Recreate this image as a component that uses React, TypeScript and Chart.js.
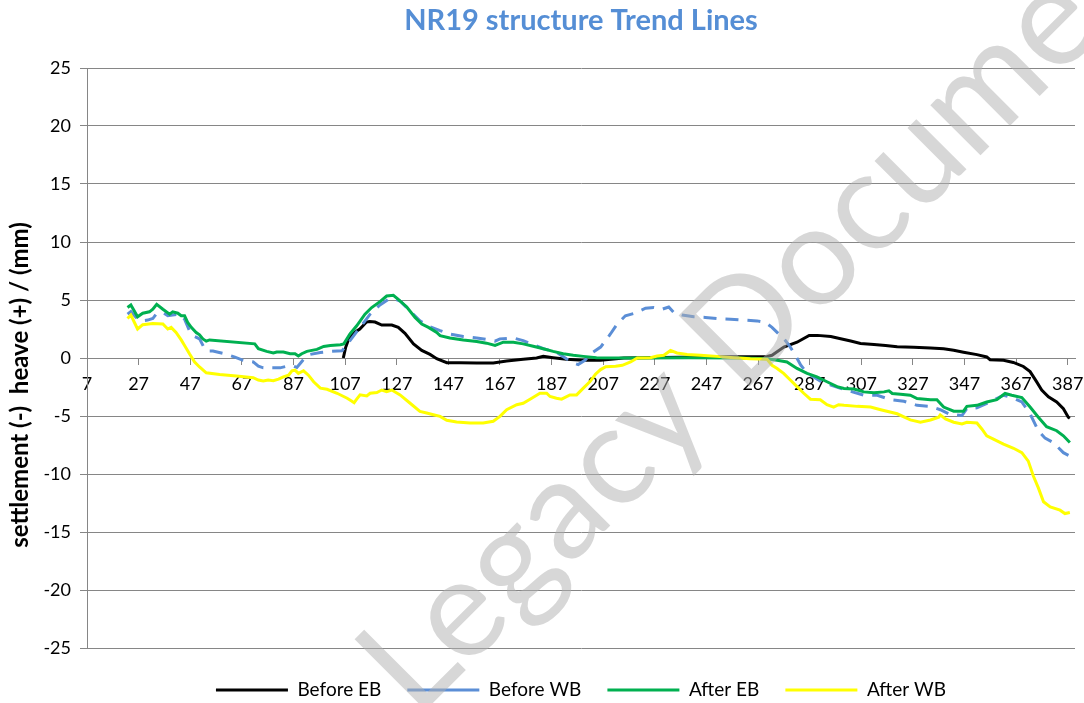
import React, { useEffect, useRef } from 'react';
import { Chart, registerables } from 'chart.js';

Chart.register(...registerables);

const TITLE = 'NR19 structure Trend Lines';
const Y_TITLE = 'settlement (-)  heave (+) / (mm)';
const WATERMARK = 'Legacy Document';
const SERIES_NAMES = ['Before EB', 'Before WB', 'After EB', 'After WB'];
const X_TICKS = [7, 27, 47, 67, 87, 107, 127, 147, 167, 187, 207, 227, 247, 267, 287, 307, 327, 347, 367, 387];
const Y_MIN = -25;
const Y_MAX = 25;
const Y_STEP = 5;

// [chainage, value]
const beforeEB: [number, number][] = [
  [106.3, 0], [107.2, 0.9], [108.5, 1.7], [110, 2.1], [112.7, 2.5], [115.3, 3.1], [116.5, 3.15], [118.6, 3.1],
  [121.2, 2.84], [125.1, 2.84], [127.6, 2.64], [130.2, 2.13], [133.5, 1.22], [136.7, 0.65], [139.9, 0.31],
  [142.5, -0.06], [146.4, -0.4], [151.5, -0.4], [158, -0.43], [164.4, -0.43], [169.6, -0.26], [176, -0.11],
  [181.2, 0], [183.8, 0.14], [187.6, 0.03], [192.8, -0.11], [199.3, -0.2], [206, -0.2], [215, 0], [230, 0.05],
  [250, 0.1], [270.5, 0.14], [272.4, 0.23], [277, 0.94], [282.1, 1.36], [286.8, 1.95], [290, 1.95], [295.2, 1.85],
  [299, 1.66], [302.9, 1.46], [306.7, 1.25], [311.9, 1.17], [316.4, 1.08], [320.9, 0.96], [327.3, 0.93],
  [333.8, 0.87], [338.9, 0.79], [342.8, 0.67], [346.6, 0.5], [351.8, 0.29], [355.6, 0.09], [356.9, -0.15],
  [362.1, -0.2], [365.9, -0.38], [369.8, -0.73], [372.4, -1.17], [374.9, -2.04], [376.9, -2.77], [379.5, -3.35],
  [382.7, -3.79], [385.3, -4.37], [387.2, -5.1], [387.8, -5.19],
];

const beforeWB: [number, number][] = [
  [22.7, 3.78], [24, 4.0], [26, 3.5], [27.9, 3.2], [30.5, 3.27], [32.5, 3.4], [33.8, 3.78], [36.4, 3.92],
  [38.3, 3.64], [40.2, 3.7], [42.8, 3.78], [44.8, 3.35], [46.7, 2.36], [48.7, 1.85], [50.6, 1.65], [52.6, 0.8],
  [53.9, 0.6], [55.8, 0.6], [60.4, 0.37], [64.3, 0.08], [67.5, -0.2], [71.4, -0.34], [73.4, -0.71], [75.3, -0.85],
  [79.2, -0.85], [81.8, -0.85], [84.4, -0.71], [87, -0.71], [88.3, -0.82], [89.6, -0.48], [91.5, 0.03],
  [93.5, 0.31], [97.4, 0.48], [101.3, 0.57], [105.8, 0.62], [108.9, 1.5], [112.8, 2.64], [116.7, 3.78],
  [120.5, 4.57], [123.8, 5.06], [125.7, 5.14], [128.3, 4.91], [132.2, 4.06], [136, 3.2], [139.9, 2.7],
  [143.8, 2.36], [147.6, 2.07], [152.8, 1.85], [158, 1.73], [163.1, 1.56], [165.1, 1.45], [167, 1.65],
  [172.2, 1.73], [176, 1.5], [179.9, 1.16], [183.8, 0.8], [188.9, 0.51], [192.7, -0.06], [195.4, -0.43],
  [197.3, -0.57], [199.9, -0.2], [203.1, 0.51], [206, 0.94], [209.8, 2.07], [212.4, 2.93], [215.6, 3.64],
  [218.9, 3.84], [223.4, 4.29], [226.6, 4.35], [229.8, 4.2], [232.4, 4.4], [234.4, 3.92], [237.6, 3.7],
  [242.1, 3.55], [246.6, 3.5], [251.1, 3.4], [256.3, 3.35], [261.5, 3.27], [266.6, 3.2], [269.8, 3.07],
  [272.4, 2.64], [275, 2.07], [277.6, 1.5], [279.5, 0.94], [281.5, 0.23], [283.5, -0.6], [286, -1.3],
  [289, -1.7], [292, -2.1], [295.2, -2.33], [300.3, -2.71], [308, -3.21], [313.2, -3.21], [318.3, -3.59],
  [323.5, -3.73], [328.6, -4.08], [333.8, -4.17], [337.6, -4.46], [341.5, -4.87], [346, -4.96], [347.9, -4.37],
  [351.8, -4.29], [356.9, -3.79], [362.1, -3.21], [365.3, -3.41], [369.2, -3.79], [372.4, -4.81], [375.6, -6.27],
  [378.2, -6.91], [381.4, -7.29], [385.3, -8.16], [387.8, -8.45],
];

const afterEB: [number, number][] = [
  [22.7, 4.35], [24, 4.57], [26.6, 3.55], [28.6, 3.86], [31.2, 3.98], [32.5, 4.2], [34, 4.63], [36.4, 4.2],
  [39, 3.78], [40.2, 3.98], [42.2, 3.86], [43.5, 3.64], [44.8, 3.64], [46, 3.07], [47.4, 2.64], [49.3, 2.2],
  [50.6, 2.0], [51.9, 1.65], [53.2, 1.45], [54.5, 1.56], [72, 1.22], [73.4, 0.8], [76.6, 0.57], [79.2, 0.43],
  [80.5, 0.51], [83.1, 0.51], [85.7, 0.37], [87.6, 0.37], [88.9, 0.17], [90.2, 0.37], [92.2, 0.57], [96.1, 0.74],
  [98.7, 1.0], [101.3, 1.08], [105.2, 1.14], [106.5, 1.22], [108.9, 2.07], [111.5, 2.78], [114.7, 3.78],
  [117.3, 4.35], [120.5, 4.86], [123.1, 5.34], [125.7, 5.4], [127.6, 5.06], [130.9, 4.4], [134.1, 3.5],
  [136.7, 2.93], [139.3, 2.64], [142.5, 2.2], [143.8, 1.93], [147.6, 1.73], [152.8, 1.56], [158, 1.42],
  [161.8, 1.28], [165.1, 1.08], [168.3, 1.36], [172.2, 1.36], [176, 1.22], [179.9, 1.02], [183.8, 0.8],
  [187.6, 0.57], [191.5, 0.37], [195.4, 0.23], [199.3, 0.14], [204.4, 0.03], [220, 0], [240, 0.02], [260, 0],
  [270.5, -0.06], [274.4, -0.2], [278.2, -0.34], [282.1, -0.9], [286, -1.33], [289.8, -1.62], [293.7, -2.05],
  [297.6, -2.47], [300.3, -2.62], [304.2, -2.68], [308, -2.92], [311.9, -3.0], [315.8, -2.92], [317.7, -2.83],
  [319, -3.06], [322.2, -3.12], [326, -3.21], [328.6, -3.5], [333.8, -3.59], [336.3, -3.59], [338.9, -4.23],
  [342.8, -4.58], [346.6, -4.58], [347.9, -4.17], [351.8, -4.08], [355.6, -3.79], [359.5, -3.59], [362.7, -3.06],
  [365.3, -3.21], [369.2, -3.41], [372.4, -4.23], [375.6, -5.1], [378.8, -5.92], [382.7, -6.27], [385.3, -6.71],
  [387.8, -7.29],
];

const afterWB: [number, number][] = [
  [22.7, 3.4], [24, 3.7], [26.6, 2.5], [28.6, 2.87], [32.5, 2.98], [36.4, 2.93], [38.3, 2.5], [39.6, 2.64],
  [41.5, 2.2], [43.5, 1.56], [44.8, 1.08], [46.7, 0.37], [48.7, -0.34], [50.6, -0.77], [53.2, -1.28],
  [58.4, -1.42], [64.9, -1.56], [71.4, -1.7], [73.4, -1.9], [75.3, -1.99], [77.2, -1.9], [79.2, -1.96],
  [81.2, -1.82], [83.1, -1.62], [85.1, -1.48], [86.4, -1.1], [87.6, -1.05], [88.9, -1.33], [90.9, -1.1],
  [92.8, -1.48], [94.8, -2.05], [97.4, -2.6], [100, -2.7], [103.9, -3.04], [107.8, -3.47], [109.5, -3.7],
  [110.5, -3.85], [111.5, -3.55], [112.8, -3.18], [115.4, -3.27], [116.7, -3.04], [119.3, -2.98], [121.2, -2.76],
  [123.1, -2.9], [125.1, -2.76], [128.3, -3.18], [132.2, -3.9], [136, -4.6], [138.6, -4.74], [141.2, -4.89],
  [143.8, -5.03], [146.4, -5.37], [150.2, -5.51], [155.4, -5.6], [160.5, -5.6], [164.4, -5.45], [167, -5.03],
  [169.6, -4.46], [173.5, -4.03], [176, -3.9], [179.3, -3.47], [182.5, -3.04], [185.1, -3.04], [186.4, -3.32],
  [188.9, -3.47], [190.9, -3.55], [194.1, -3.18], [196.7, -3.18], [199.3, -2.6], [201.8, -2.05], [204, -1.4],
  [206, -1.0], [208, -0.75], [211.8, -0.71], [214.4, -0.63], [217.6, -0.34], [220.2, 0], [225.3, 0.03],
  [227.9, 0.17], [230.5, 0.23], [233.1, 0.65], [235.6, 0.43], [239.5, 0.31], [244.7, 0.23], [251.1, 0.14],
  [257.6, 0.03], [264, -0.06], [270.5, -0.11], [272.4, -0.63], [274.4, -0.9], [276.9, -1.33], [279.5, -1.9],
  [282.1, -2.47], [284.7, -3.04], [287.3, -3.55], [291.1, -3.6], [293.7, -4.03], [296.3, -4.23], [298.2, -4.03],
  [300.3, -4.08], [305.5, -4.17], [310.6, -4.23], [314.5, -4.46], [320.9, -4.81], [326, -5.34], [329.9, -5.54],
  [333.8, -5.34], [337, -5.1], [337.6, -4.9], [339.6, -5.25], [342.8, -5.54], [346, -5.69], [347.9, -5.54],
  [351.8, -5.6], [353.7, -6.12], [355.6, -6.71], [358.2, -7.0], [362.1, -7.43], [366, -7.78], [369.2, -8.16],
  [371.7, -8.89], [373.7, -10.2], [375.6, -11.2], [377.6, -12.39], [380.2, -12.83], [384, -13.12],
  [385.9, -13.41], [387.8, -13.32],
];

const SERIES_DATA = [beforeEB, beforeWB, afterEB, afterWB];
const SERIES_COLORS = ['#000000', '#5B8ED6', '#00B050', '#FFFF00'];
const SERIES_DASH: number[][] = [[], [13, 9], [], []];
const SERIES_ORDER = [3, 2, 1, 0];

const FONT = 'Lato, "Open Sans", sans-serif';

export default function App() {
  const ref = useRef<HTMLCanvasElement>(null);

  useEffect(() => {
    if (!ref.current) return;
    const overlay = {
      id: 'overlay',
      afterDraw(chart: any) {
        const ctx = chart.ctx;
        // vertical axis title
        ctx.save();
        ctx.translate(20, 385);
        ctx.rotate(-Math.PI / 2);
        ctx.font = `bold 24px ${FONT}`;
        ctx.fillStyle = '#000';
        ctx.textAlign = 'center';
        ctx.textBaseline = 'middle';
        ctx.fillText(Y_TITLE, 0, 0);
        ctx.restore();
        // watermark
        ctx.save();
        ctx.translate(775, 297);
        ctx.rotate(-Math.PI / 4);
        ctx.font = `140px ${FONT}`;
        ctx.fillStyle = 'rgba(175,175,175,0.5)';
        ctx.textAlign = 'center';
        ctx.textBaseline = 'middle';
        ctx.fillText(WATERMARK, 0, 0);
        ctx.restore();
      },
    };

    const chart = new Chart(ref.current, {
      type: 'line',
      data: {
        datasets: SERIES_DATA.map((arr, i) => ({
          label: SERIES_NAMES[i],
          data: arr.map(([x, y]) => ({ x, y })),
          borderColor: SERIES_COLORS[i],
          backgroundColor: SERIES_COLORS[i],
          borderWidth: 3,
          borderDash: SERIES_DASH[i],
          pointRadius: 0,
          pointHoverRadius: 0,
          pointStyle: 'line',
          tension: 0,
          fill: false,
          order: SERIES_ORDER[i],
        })),
      },
      options: {
        responsive: false,
        animation: false,
        events: [],
        layout: { padding: { left: 0, right: 9, top: 0, bottom: -6.5 } },
        plugins: {
          title: {
            display: true,
            text: TITLE,
            fullSize: false,
            color: '#558ED5',
            font: { family: FONT, size: 29, weight: 'bold' },
            padding: { top: 3.6, bottom: 29.6 },
          },
          legend: {
            position: 'bottom',
            fullSize: false,
            title: { display: true, text: '', padding: { top: 5.3, bottom: 0 }, font: { size: 1 } },
            labels: {
              usePointStyle: true,
              pointStyleWidth: 72,
              padding: 26,
              color: '#000',
              font: { family: FONT, size: 19 },
              sort: (a: any, b: any) => a.datasetIndex - b.datasetIndex,
            },
          },
          tooltip: { enabled: false },
        },
        scales: {
          x: {
            type: 'linear',
            position: { y: 0 } as any,
            min: 7,
            max: 389.8,
            afterBuildTicks: (s: any) => {
              s.ticks = X_TICKS.map((v) => ({ value: v }));
            },
            afterFit: (s: any) => {
              s.paddingLeft = 0;
              s.paddingRight = 0;
            },
            grid: { display: true, drawOnChartArea: false, drawTicks: true, tickLength: 6, color: '#868686' },
            border: { display: true, color: '#868686', width: 1 },
            ticks: { color: '#000', font: { family: FONT, size: 18 }, padding: 9, maxRotation: 0, autoSkip: false },
          },
          y: {
            type: 'linear',
            min: Y_MIN,
            max: Y_MAX,
            afterFit: (s: any) => {
              s.width = 87;
            },
            grid: { color: '#868686', tickLength: 7, lineWidth: 1 },
            border: { color: '#868686', width: 1 },
            ticks: { stepSize: Y_STEP, color: '#000', font: { family: FONT, size: 18 }, padding: 9 },
          },
        },
      },
      plugins: [overlay],
    } as any);
    return () => chart.destroy();
  }, []);

  return (
    <div style={{ position: 'absolute', left: 0, top: 0, width: 1084, height: 703, background: '#fff' }}>
      <canvas ref={ref} width={1084} height={703} style={{ width: 1084, height: 703, display: 'block' }} />
    </div>
  );
}
